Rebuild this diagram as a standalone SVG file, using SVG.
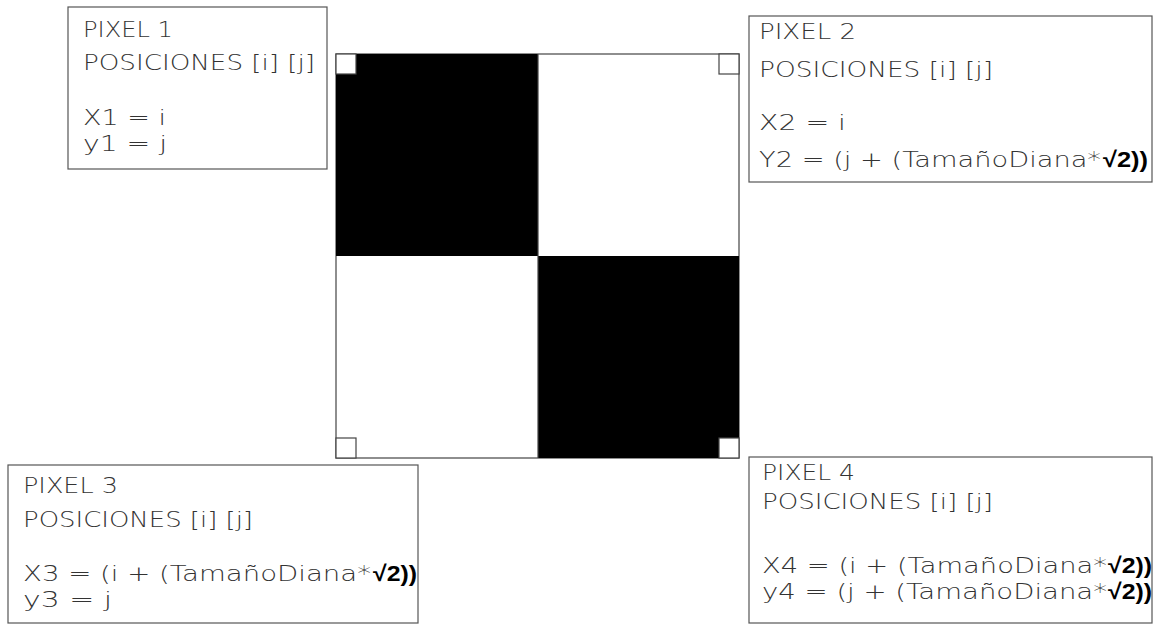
<svg xmlns="http://www.w3.org/2000/svg" width="1154" height="625" viewBox="0 0 1154 625">
<style>
.box{fill:#fff;stroke:#555;stroke-width:1.2}
.t{font-family:"DejaVu Sans",sans-serif;font-weight:200;font-size:22px;fill:#333}
.r{font-family:"Liberation Sans",Arial,sans-serif;font-size:22px;fill:#000;font-weight:bold}
.sq{stroke:#444;stroke-width:1.2}
</style>
<rect width="1154" height="625" fill="#fff"/>
<g id="board">
<rect class="sq" x="336" y="54" width="403" height="404" fill="#fff"/>
<rect x="336" y="54" width="202" height="202" fill="#000"/>
<rect x="538" y="256" width="201" height="202" fill="#000"/>
<line class="sq" x1="538" y1="54" x2="538" y2="458"/>
<rect class="sq" x="336" y="54" width="20" height="20" fill="#fff"/>
<rect class="sq" x="719" y="54" width="20" height="20" fill="#fff"/>
<rect class="sq" x="336" y="438" width="20" height="20" fill="#fff"/>
<rect class="sq" x="719" y="438" width="20" height="20" fill="#fff"/>
</g>
<g id="pixel1">
<rect class="box" x="68" y="7" width="259" height="162"/>
<text class="t" x="83" y="37" textLength="90" lengthAdjust="spacingAndGlyphs">PIXEL 1</text>
<text class="t" x="83" y="70" textLength="232" lengthAdjust="spacingAndGlyphs">POSICIONES [i] [j]</text>
<text class="t" x="83" y="125" textLength="83" lengthAdjust="spacingAndGlyphs">X1 = i</text>
<text class="t" x="83" y="151" textLength="84" lengthAdjust="spacingAndGlyphs">y1 = j</text>
</g>
<g id="pixel2">
<rect class="box" x="749" y="16" width="403" height="166"/>
<text class="t" x="759" y="39" textLength="97" lengthAdjust="spacingAndGlyphs">PIXEL 2</text>
<text class="t" x="759" y="77" textLength="234" lengthAdjust="spacingAndGlyphs">POSICIONES [i] [j]</text>
<text class="t" x="759" y="130" textLength="87" lengthAdjust="spacingAndGlyphs">X2 = i</text>
<text class="t" x="759" y="167" textLength="342" lengthAdjust="spacingAndGlyphs">Y2 = (j + (TamañoDiana*</text>
<text class="r" x="1103" y="167" textLength="45" lengthAdjust="spacingAndGlyphs">√2))</text>
</g>
<g id="pixel3">
<rect class="box" x="8" y="465" width="410" height="158"/>
<text class="t" x="23" y="493" textLength="95" lengthAdjust="spacingAndGlyphs">PIXEL 3</text>
<text class="t" x="23" y="527" textLength="230" lengthAdjust="spacingAndGlyphs">POSICIONES [i] [j]</text>
<text class="t" x="23" y="581" textLength="348" lengthAdjust="spacingAndGlyphs">X3 = (i + (TamañoDiana*</text>
<text class="r" x="373" y="581" textLength="44" lengthAdjust="spacingAndGlyphs">√2))</text>
<text class="t" x="23" y="607" textLength="89" lengthAdjust="spacingAndGlyphs">y3 = j</text>
</g>
<g id="pixel4">
<rect class="box" x="749" y="457" width="403" height="166"/>
<text class="t" x="762" y="480" textLength="93" lengthAdjust="spacingAndGlyphs">PIXEL 4</text>
<text class="t" x="762" y="509" textLength="231" lengthAdjust="spacingAndGlyphs">POSICIONES [i] [j]</text>
<text class="t" x="762" y="573" textLength="345" lengthAdjust="spacingAndGlyphs">X4 = (i + (TamañoDiana*</text>
<text class="r" x="1108" y="573" textLength="44" lengthAdjust="spacingAndGlyphs">√2))</text>
<text class="t" x="762" y="599" textLength="345" lengthAdjust="spacingAndGlyphs">y4 = (j + (TamañoDiana*</text>
<text class="r" x="1108" y="599" textLength="44" lengthAdjust="spacingAndGlyphs">√2))</text>
</g>
<g id="connectors"/>
</svg>
